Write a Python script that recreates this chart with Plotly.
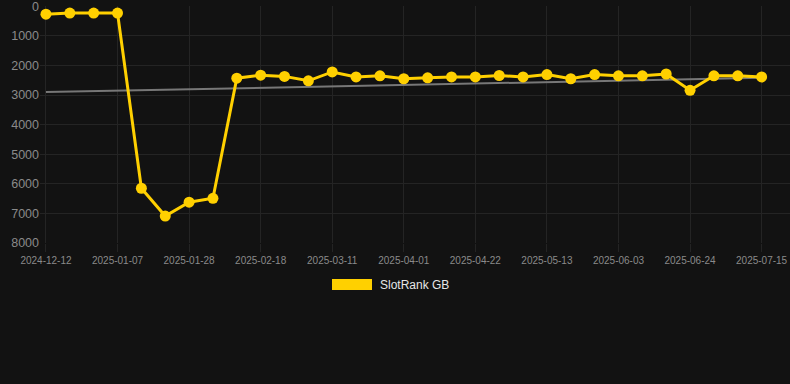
import plotly.graph_objects as go

dates = [
    "2024-12-12", "2024-12-19", "2024-12-26", "2025-01-07", "2025-01-14",
    "2025-01-21", "2025-01-28", "2025-02-04", "2025-02-11", "2025-02-18",
    "2025-02-25", "2025-03-04", "2025-03-11", "2025-03-18", "2025-03-25",
    "2025-04-01", "2025-04-08", "2025-04-15", "2025-04-22", "2025-04-29",
    "2025-05-06", "2025-05-13", "2025-05-20", "2025-05-27", "2025-06-03",
    "2025-06-10", "2025-06-17", "2025-06-24", "2025-07-01", "2025-07-08",
    "2025-07-15",
]
rank = [
    270, 230, 230, 230, 6150, 7090, 6620, 6490, 2430, 2330,
    2370, 2520, 2220, 2390, 2350, 2450, 2420, 2390, 2390, 2340,
    2390, 2310, 2450, 2310, 2350, 2350, 2290, 2840, 2350, 2350,
    2390,
]
trend_x = ["2024-12-12", "2025-07-15"]
trend_y = [2900, 2420]
tick_labels = [
    "2024-12-12", "2025-01-07", "2025-01-28", "2025-02-18", "2025-03-11",
    "2025-04-01", "2025-04-22", "2025-05-13", "2025-06-03", "2025-06-24",
    "2025-07-15",
]
y_ticks = [0, 1000, 2000, 3000, 4000, 5000, 6000, 7000, 8000]
series_name = "SlotRank GB"

BG = "#121212"
GRID = "#242424"
YELLOW = "#FFD000"
FONT = "Liberation Sans, Arial, sans-serif"

fig = go.Figure()
fig.add_trace(go.Scatter(
    x=trend_x, y=trend_y, mode="lines",
    line=dict(color="#777777", width=2), showlegend=False, hoverinfo="skip",
))
fig.add_trace(go.Scatter(
    x=dates, y=rank, mode="lines+markers", name=series_name,
    line=dict(color=YELLOW, width=3),
    marker=dict(color=YELLOW, size=11),
    showlegend=False,
))

W, H = 790, 384
L, R, T, B = 40, 0, 6, 141
pw, ph = W - L - R, H - T - B

def px_x(x):
    return (x - L) / pw

def px_y(y):
    return (H - B - y) / ph

fig.add_shape(type="rect", xref="paper", yref="paper",
              x0=px_x(332), x1=px_x(372), y0=px_y(290), y1=px_y(279),
              fillcolor=YELLOW, line=dict(width=0))
fig.add_annotation(xref="paper", yref="paper", x=px_x(378), y=px_y(285),
                   text=series_name, showarrow=False, xanchor="left",
                   yanchor="middle", font=dict(color="#e6e6e6", size=12, family=FONT))

fig.update_layout(
    width=W, height=H,
    margin=dict(l=L, r=R, t=T, b=B, pad=0),
    paper_bgcolor=BG, plot_bgcolor=BG,
    font=dict(family=FONT, color="#8a8a8a", size=12),
    showlegend=False,
    xaxis=dict(
        type="category", categoryorder="array", categoryarray=dates,
        range=[-0.25, 31.19],
        tickmode="array", tickvals=tick_labels, ticktext=tick_labels,
        tickfont=dict(size=10, color="#8a8a8a"),
        showgrid=True, gridcolor=GRID, gridwidth=1,
        ticks="outside", ticklen=8, tickcolor=GRID,
        showline=False, zeroline=False, ticklabeloverflow="allow",
    ),
    yaxis=dict(
        range=[8000, -8], tickmode="array", tickvals=y_ticks,
        tickfont=dict(size=12.5, color="#8a8a8a"),
        showgrid=True, gridcolor=GRID, gridwidth=1,
        zeroline=False, showline=False, ticks="",
        ticklabeloverflow="allow",
    ),
)

fig.write_html(
    "out.html",
    config={"displayModeBar": False},
    post_script="document.body.style.margin='0';document.body.style.background='#121212';",
)
